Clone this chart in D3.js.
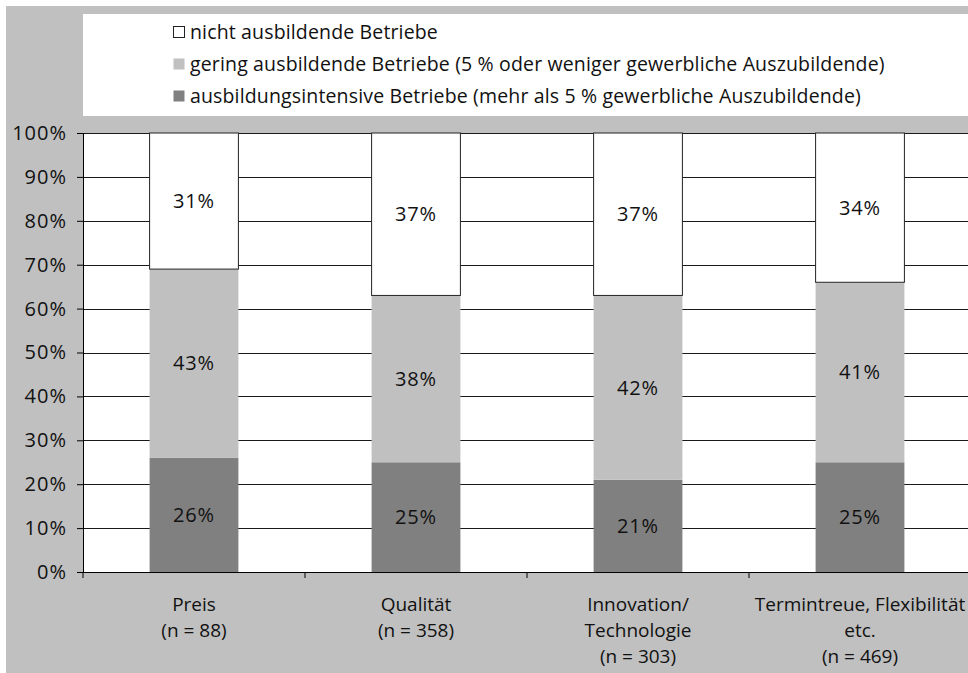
<!DOCTYPE html>
<html><head><meta charset="utf-8">
<script src="https://cdn.jsdelivr.net/npm/d3@7"></script>
<style>
html,body{margin:0;padding:0;background:#fff;}
svg{display:block;font-family:"Open Sans",sans-serif;}
</style></head>
<body>
<svg id="chart" width="968" height="673"></svg>
<script>
const categories = [["Preis","(n = 88)"],["Qualität","(n = 358)"],["Innovation/","Technologie","(n = 303)"],["Termintreue, Flexibilität","etc.","(n = 469)"]];
const catKeys = ["Preis","Qualität","Innovation","Termintreue"];
const seriesNames = ["ausbildungsintensive Betriebe (mehr als 5 % gewerbliche Auszubildende)","gering ausbildende Betriebe (5 % oder weniger gewerbliche Auszubildende)","nicht ausbildende Betriebe"];
const intensive = [26, 25, 21, 25];
const gering = [43, 38, 42, 41];
const nicht = [31, 37, 37, 34];
const yTicks = [0,10,20,30,40,50,60,70,80,90,100];
const colors = ["#808080","#c0c0c0","#ffffff"];

(function(){
const svg = d3.select("#chart");
svg.append("rect").attr("x",6).attr("y",6).attr("width",962).attr("height",667).attr("fill","#c0c0c0");

const pL = 83, pR = 83+888, pT = 133, pB = 572;
const x = d3.scaleBand().domain(catKeys).range([pL,pR]).paddingInner(0.6).paddingOuter(0.3);
const y = d3.scaleLinear().domain([0,100]).range([pB,pT]);

svg.append("rect").attr("x",pL).attr("y",pT).attr("width",pR-pL).attr("height",pB-pT).attr("fill","#fff");
svg.append("g").selectAll("line").data(yTicks.filter(d=>d>0)).join("line")
  .attr("x1",pL).attr("x2",pR).attr("y1",d=>Math.round(y(d))+0.5).attr("y2",d=>Math.round(y(d))+0.5)
  .attr("stroke","#1a1a1a").attr("stroke-width",1);

const rows = catKeys.map((k,i)=>({key:k, a:intensive[i], b:gering[i], c:nicht[i]}));
const stack = d3.stack().keys(["a","b","c"])(rows);
const g = svg.append("g");
stack.forEach((layer,li)=>{
  g.append("g").selectAll("rect").data(layer).join("rect")
    .attr("x",d=>x(d.data.key)).attr("width",x.bandwidth())
    .attr("y",d=>y(d[1])).attr("height",d=>y(d[0])-y(d[1]))
    .attr("fill",colors[li])
    .attr("stroke",li===2?"#222":"none").attr("stroke-width",1);
  g.append("g").selectAll("text").data(layer).join("text")
    .attr("x",d=>x(d.data.key)+x.bandwidth()/2)
    .attr("y",d=>(y(d[0])+y(d[1]))/2)
    .attr("dy","0.35em").attr("text-anchor","middle")
    .attr("font-size",20).attr("letter-spacing",0.8).attr("fill","#111")
    .text(d=>(d[1]-d[0])+"%");
});

const yAxis = d3.axisLeft(y).tickValues(yTicks).tickFormat(d=>d+"%").tickSize(6).tickPadding(10);
const ya = svg.append("g").attr("transform",`translate(${pL},0)`).call(yAxis);
ya.select(".domain").attr("stroke","#000");
ya.selectAll(".tick line").attr("stroke","#000");
ya.selectAll(".tick text").attr("font-size",20).attr("letter-spacing",1).attr("fill","#111").attr("font-family","'Open Sans',sans-serif");

svg.append("line").attr("x1",pL).attr("x2",pR).attr("y1",pB+0.5).attr("y2",pB+0.5).attr("stroke","#000");
const bounds = d3.range(catKeys.length+1).map(i=>pL + i*x.step());
svg.append("g").selectAll("line").data(bounds).join("line")
  .attr("x1",d=>d).attr("x2",d=>d).attr("y1",pB).attr("y2",pB+6).attr("stroke","#000");

svg.append("g").selectAll("text").data(categories).join("text")
  .attr("x",(d,i)=>x(catKeys[i])+x.bandwidth()/2)
  .attr("y",611).attr("text-anchor","middle").attr("font-size",19).attr("fill","#111")
  .each(function(d){
    const t = d3.select(this);
    d.forEach((line,j)=>t.append("tspan").attr("x",t.attr("x")).attr("dy",j===0?0:26).text(line));
  });

svg.append("rect").attr("x",83).attr("y",14).attr("width",968-83).attr("height",102).attr("fill","#fff");
const legendItems = [2,1,0];
const lg = svg.append("g").selectAll("g").data(legendItems).join("g")
  .attr("transform",(d,i)=>`translate(173,${26+i*32})`);
lg.append("rect").attr("x",0.5).attr("y",0.5).attr("width",11).attr("height",11)
  .attr("fill",d=>colors[d]).attr("stroke",d=>d===2?"#222":"none");
lg.append("text").attr("x",17).attr("y",6).attr("dy","0.35em").attr("font-size",19.5).attr("letter-spacing",0.15).attr("fill","#111")
  .text(d=>seriesNames[d]);
})();
</script>
</body></html>
